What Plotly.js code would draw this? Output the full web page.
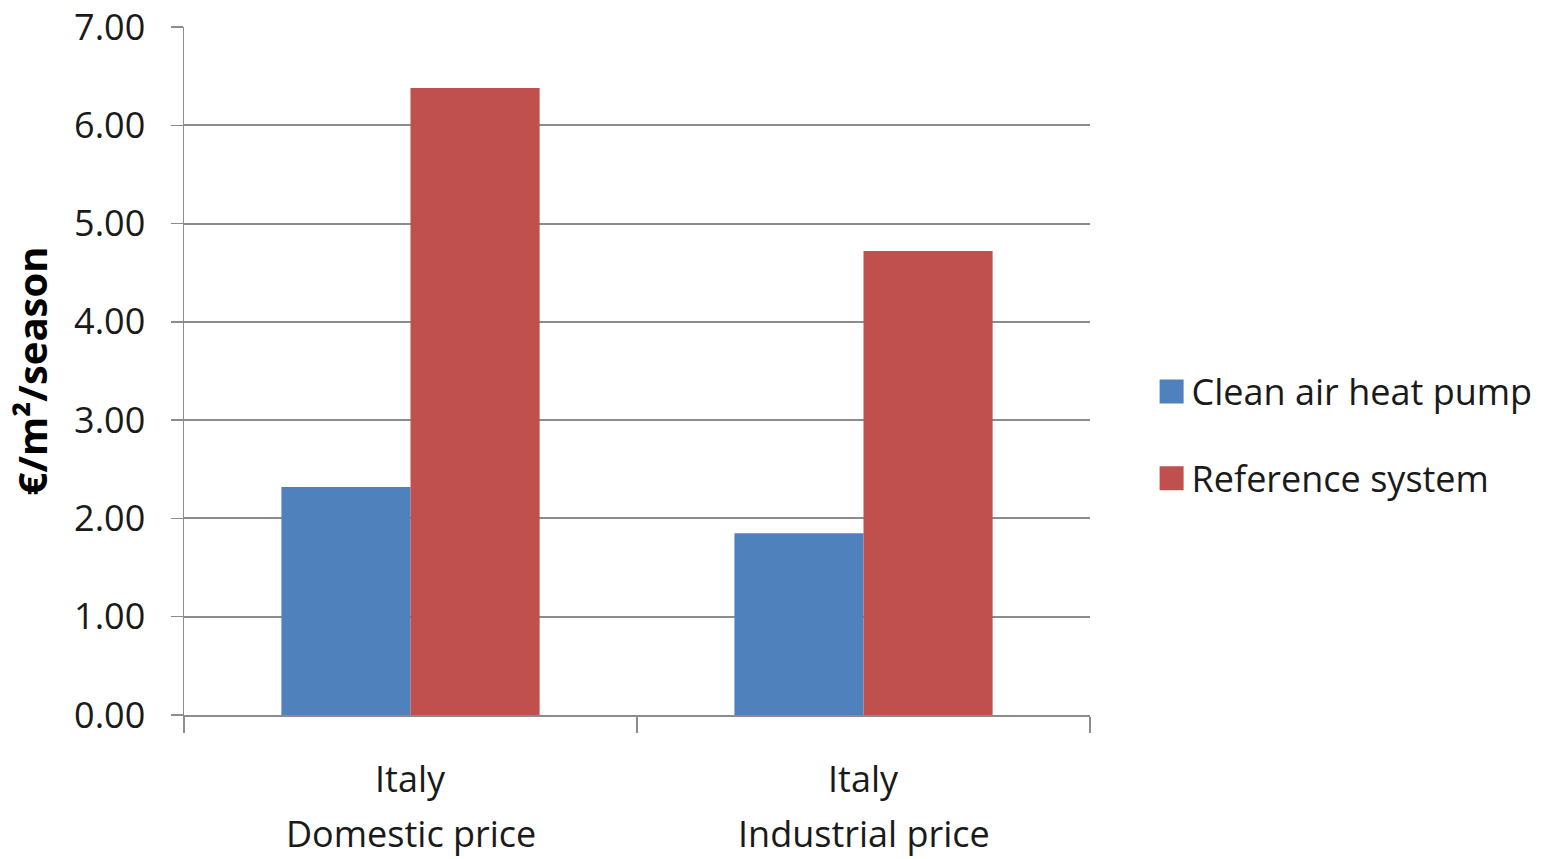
<!DOCTYPE html>
<html>
<head>
<meta charset="utf-8">
<script src="https://cdn.plot.ly/plotly-3.0.1.min.js"></script>
<style>
  html, body { margin: 0; padding: 0; background: #ffffff; }
  #chart { width: 1551px; height: 859px; }
  /* larger legend swatches */
  #chart .legend .legendpoints path {
    transform-box: fill-box;
    transform-origin: center;
    transform: translate(20px, 0px) scale(2);
  }
</style>
</head>
<body>
<div id="chart"></div>
<script>
// Seasonal running cost per square metre, Italy
const categories = ["Domestic", "Industrial"];
const categoryLine1 = ["Italy", "Italy"];
const categoryLine2 = ["Domestic price", "Industrial price"];
const heatPumpCost = [2.32, 1.85];
const referenceCost = [6.38, 4.72];
const seriesNames = ["Clean air heat pump", "Reference system"];
const yTickValues = [0, 1, 2, 3, 4, 5, 6, 7];
const yTickLabels = ["0.00", "1.00", "2.00", "3.00", "4.00", "5.00", "6.00", "7.00"];

const FONT = "Open Sans, Lato, sans-serif";
const TEXT = "#1a1a1a";
const GRID = "#8c8c8c";
const SIZE = 36;

const traces = [
  {
    type: "bar",
    name: seriesNames[0],
    x: categories,
    y: heatPumpCost,
    legendgroup: "a",
    marker: { color: "#4F81BD" },
    hoverinfo: "y+name"
  },
  {
    type: "bar",
    name: seriesNames[1],
    x: categories,
    y: referenceCost,
    legendgroup: "b",
    marker: { color: "#C0504D" },
    hoverinfo: "y+name"
  }
];

// two-line category labels under each group
const categoryAnnotations = [];
categories.forEach((c, i) => {
  categoryAnnotations.push({
    xref: "x", yref: "paper", x: c, y: 0,
    yanchor: "middle", yshift: -63, showarrow: false,
    text: categoryLine1[i],
    font: { family: FONT, size: SIZE, color: TEXT }
  });
  categoryAnnotations.push({
    xref: "x", yref: "paper", x: c, y: 0,
    yanchor: "middle", yshift: -118, showarrow: false,
    text: categoryLine2[i],
    font: { family: FONT, size: SIZE, color: TEXT }
  });
});

const layout = {
  width: 1551,
  height: 859,
  paper_bgcolor: "#ffffff",
  plot_bgcolor: "#ffffff",
  margin: { l: 184, r: 461, t: 27, b: 144, autoexpand: false },
  barmode: "group",
  bargap: 0.43,
  bargroupgap: 0,
  font: { family: FONT, color: TEXT, size: SIZE },
  showlegend: true,
  legend: {
    x: 1.068,
    y: 0.407,
    xanchor: "left",
    yanchor: "middle",
    font: { family: FONT, size: SIZE, color: TEXT },
    tracegroupgap: 37,
    itemwidth: 30,
    bgcolor: "rgba(0,0,0,0)"
  },
  annotations: categoryAnnotations,
  xaxis: {
    type: "category",
    tickson: "boundaries",
    ticks: "outside",
    ticklen: 16,
    tickwidth: 1.5,
    tickcolor: GRID,
    showline: true,
    linecolor: GRID,
    linewidth: 2,
    showgrid: false,
    showticklabels: false,
    fixedrange: true
  },
  yaxis: {
    range: [0, 7],
    tickvals: yTickValues,
    ticktext: yTickLabels,
    ticks: "outside",
    ticklen: 12,
    tickwidth: 1.5,
    tickcolor: GRID,
    ticklabelstandoff: 18,
    showline: true,
    linecolor: GRID,
    linewidth: 1.5,
    showgrid: true,
    gridcolor: GRID,
    gridwidth: 2,
    zeroline: false,
    tickfont: { family: FONT, size: SIZE, color: TEXT },
    title: {
      text: "€/m²/season",
      font: { family: FONT, size: 40, color: "#000000", weight: "bold" },
      standoff: 14
    },
    fixedrange: true
  }
};

Plotly.newPlot("chart", traces, layout, { displayModeBar: false, staticPlot: true });
</script>
</body>
</html>
